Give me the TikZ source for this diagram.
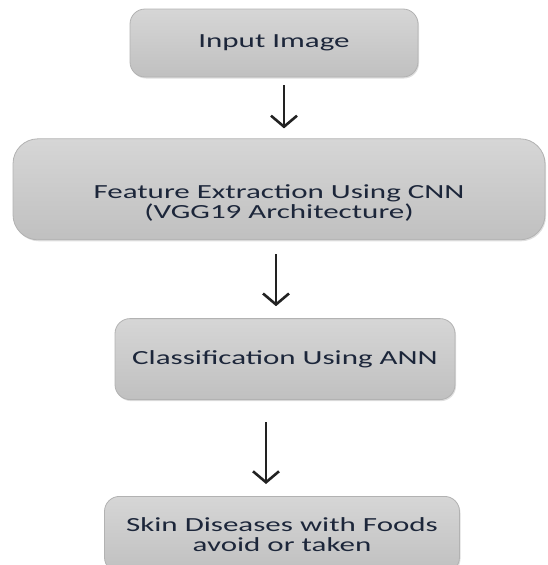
\documentclass[tikz,border=0pt]{standalone}
\usepackage{fontspec}
\usetikzlibrary{positioning,arrows.meta,shadows}
\newfontfamily\boxfont[FakeStretch=1.55]{Carlito}
\definecolor{boxtop}{RGB}{214,214,214}
\definecolor{boxbottom}{RGB}{192,192,192}
\definecolor{boxline}{RGB}{178,178,178}
\definecolor{stagetext}{RGB}{28,38,58}
\definecolor{arrowgray}{RGB}{34,34,34}
\begin{document}
\begin{tikzpicture}[x=1pt,y=1pt,
    stage/.style={draw=boxline, line width=0.8pt, rounded corners=15pt,
        top color=boxtop, bottom color=boxbottom, text=stagetext,
        font=\boxfont\fontsize{20}{20}\selectfont, align=center, inner sep=0pt,
        drop shadow={shadow xshift=1pt, shadow yshift=-1.5pt, opacity=0.25}},
    flow/.style={draw=arrowgray, line width=2.6pt,
        -{Straight Barb[length=11pt,width=26pt,line width=2.6pt]}}]
    \useasboundingbox (0,0) rectangle (547,-565);

    \node[stage, minimum width=288, minimum height=68] (input) at (274,-43) {Input Image};
    \node[stage, minimum width=532, minimum height=101, rounded corners=25pt,
        below=61 of input, xshift=5] (feature)
        {\rule{0pt}{41pt}Feature Extraction Using CNN\\(VGG19 Architecture)};
    \node[stage, minimum width=340, minimum height=81,
        below=78 of feature, xshift=6] (classify) {Classification Using ANN};
    \node[stage, minimum width=355, minimum height=76,
        below=96 of classify, xshift=-3] (output) {Skin Diseases with Foods\\avoid or taken};

    \draw[flow] ([xshift=10,yshift=-8]input.south) -- ([xshift=5,yshift=10]feature.north);
    \draw[flow] ([xshift=-3,yshift=-14]feature.south) -- ([xshift=-9,yshift=12]classify.north);
    \draw[flow] ([xshift=-19,yshift=-22]classify.south) -- ([xshift=-16,yshift=12]output.north);
\end{tikzpicture}
\end{document}
